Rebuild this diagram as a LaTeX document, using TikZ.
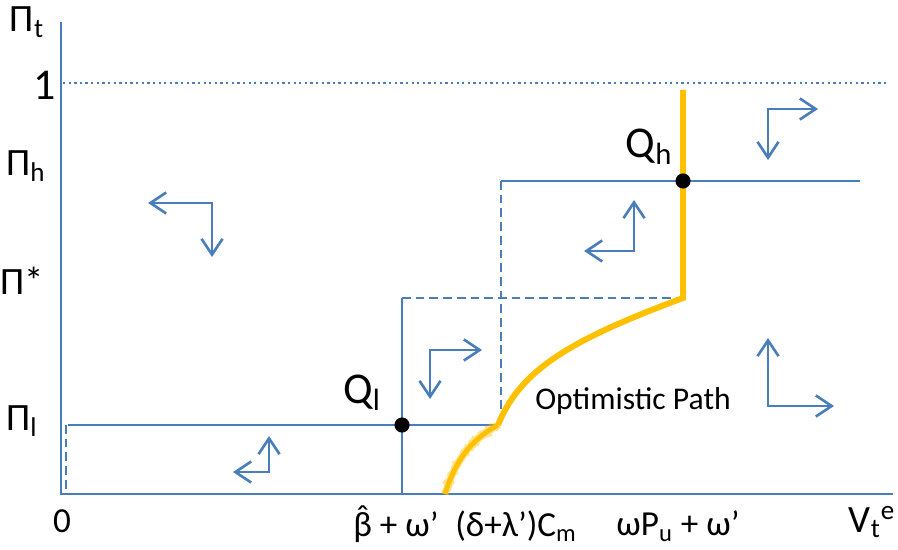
\documentclass[tikz,border=0pt]{standalone}
\usepackage{fontspec}
\setmainfont{Carlito}
\usepackage{tikz}
\usetikzlibrary{arrows.meta,decorations.pathmorphing}
\definecolor{AzulLinea}{RGB}{74,126,187}
\definecolor{NaranjaRuta}{RGB}{255,192,0}
\newcommand{\betahat}{\ooalign{β\cr\hidewidth\raisebox{0.2em}{ˆ}\hidewidth\cr}}

\begin{document}
\begin{tikzpicture}[x=0.02cm,y=-0.02cm,
  eje/.style={AzulLinea,line width=1.6pt},
  guia/.style={AzulLinea,line width=1.5pt,dash pattern=on 5pt off 2.8pt},
  flecha/.style={AzulLinea,line width=1.5pt,{Straight Barb[length=9pt,width=12pt]}-{Straight Barb[length=9pt,width=12pt]}},
  ruta/.style={NaranjaRuta,line width=3.4pt},
  etq/.style={font=\fontsize{18}{20}\selectfont,inner sep=0pt},
  eje lbl/.style={font=\fontsize{20}{22}\selectfont,inner sep=0pt},
  pi lbl/.style={font=\fontsize{22}{24}\selectfont,inner sep=0pt},
  grande/.style={font=\fontsize{25}{27}\selectfont,inner sep=0pt}]
  \useasboundingbox (0,0) rectangle (898,550);
  \coordinate (O) at (61,494);
  \coordinate (Ql) at (402,425);
  \coordinate (Qh) at (683,181);
  \coordinate (Rb) at (445,494);
  \coordinate (Rm) at (498,425);
  \coordinate (Rk) at (683,298);
  \coordinate (Rt) at (683,90);
  \draw[eje] (61,22) -- (O) -- (893,494);
  \draw[AzulLinea,line width=1.3pt,dash pattern=on 1.3pt off 1.9pt] (63,83) -- (887,83);
  \draw[eje] (68,425) -- (Ql) -- (Rm);
  \draw[guia] (66,425) -- (66,494);
  \draw[eje] (402,298) -- (Ql) -- (402,494);
  \draw[guia] (402,298) -- (Rk);
  \draw[guia] (501,181) -- (501,425);
  \draw[eje] (501,181) -- (Qh) -- (860,181);
  \draw[ruta,line width=4.4pt,opacity=0.45,decorate,decoration={random steps,segment length=1.2pt,amplitude=0.7pt}]
    (Rb) .. controls (455,462) and (470,440) .. (Rm);
  \draw[ruta,line width=2.8pt] (Rb) .. controls (455,462) and (470,440) .. (Rm);
  \draw[ruta] (Rm) .. controls (520,370) and (570,340) .. (Rk) -- (Rt);
  \fill (Ql) circle (4.3pt);
  \fill (Qh) circle (4.3pt);
  \draw[flecha] (148,203) -| (212,257);
  \draw[flecha] (233,472) -| (269,436);
  \draw[flecha] (482,350) -| (430,399);
  \draw[flecha] (584,251) -| (634,200);
  \draw[flecha] (818,109) -| (768,160);
  \draw[flecha] (834,406) -| (768,338);
  \node[pi lbl] (pt) at (27,22) {Π\textsubscript{t}};
  \node[grande] (uno) at (45,85) {1};
  \node[pi lbl] (ph) at (26,166) {Π\textsubscript{h}};
  \node[pi lbl] (pe) at (22,281) {Π*};
  \node[pi lbl] (pl) at (22,421) {Π\textsubscript{l}};
  \node[eje lbl] (cero) at (62,521) {0};
  \node[eje lbl] (xb) at (396,524) {\betahat{} + ω’};
  \node[eje lbl] (xd) at (516,526) {(δ+λ’)C\textsubscript{m}};
  \node[eje lbl] (xw) at (678,526) {ωP\textsubscript{u} + ω’};
  \node[pi lbl] (ve) at (872,522) {V\textsubscript{t}\textsuperscript{e}};
  \node[grande] (ql) at (362,393) {Q\textsubscript{l}};
  \node[grande] (qh) at (649,147) {Q\textsubscript{h}};
  \node[etq] (op) at (633,401) {Optimistic Path};
\end{tikzpicture}
\end{document}
